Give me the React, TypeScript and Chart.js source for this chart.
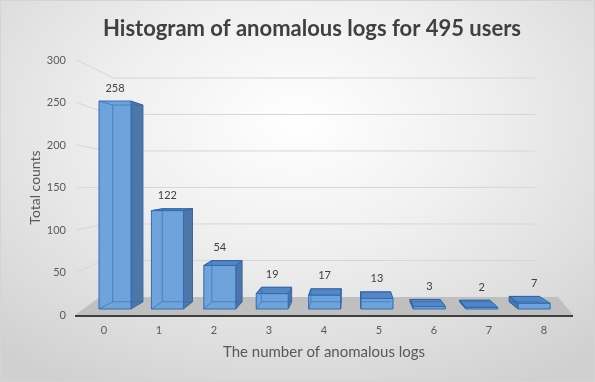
import React, { useEffect, useRef } from "react";
import { Chart, registerables } from "chart.js";

Chart.register(...registerables);

// ---- data ----
const categories = ["0", "1", "2", "3", "4", "5", "6", "7", "8"];
const counts = [258, 122, 54, 19, 17, 13, 3, 2, 7];
const yTickValues = [0, 50, 100, 150, 200, 250, 300];
const titleText = "Histogram of anomalous logs for 495 users";
const xTitleText = "The number of anomalous logs";
const yTitleText = "Total counts";

const FONT = "Lato, 'Open Sans', sans-serif";

// perspective (style)
const VP = { x: 352, y: 175 };
const DEPTH = 0.946;
const proj = (x: number, y: number) => ({ x: VP.x + DEPTH * (x - VP.x), y: VP.y + DEPTH * (y - VP.y) });

const poly = (ctx: CanvasRenderingContext2D, pts: { x: number; y: number }[]) => {
  ctx.beginPath();
  ctx.moveTo(pts[0].x, pts[0].y);
  for (let i = 1; i < pts.length; i++) ctx.lineTo(pts[i].x, pts[i].y);
  ctx.closePath();
};

const scenePlugin = {
  id: "scene3d",
  beforeDatasetsDraw(chart: any) {
    const { ctx, chartArea, scales } = chart;
    const y = scales.y;
    const yw = scales.yw;
    const L = chartArea.left;
    const R = chartArea.right;
    const B = chartArea.bottom;
    ctx.save();
    // back wall grid lines
    ctx.strokeStyle = "#d6d6d6";
    ctx.lineWidth = 1;
    yTickValues.forEach((v) => {
      if (v === 0) return;
      const fy = y.getPixelForValue(v);
      const by = yw.getPixelForValue(v);
      const wx = L + 23.5 + 13 * (v / 300);
      ctx.beginPath();
      ctx.moveTo(L + 0.5, fy);
      ctx.lineTo(wx, by);
      ctx.lineTo(R - 36.5, by);
      ctx.stroke();
    });
    // floor
    const backY = yw.getPixelForValue(0);
    ctx.fillStyle = "#bfbfbf";
    poly(ctx, [
      { x: L - 1.5, y: B },
      { x: R + 1.5, y: B },
      { x: R - 13.5, y: backY },
      { x: L + 23.5, y: backY },
    ]);
    ctx.fill();
    // axis line
    ctx.strokeStyle = "#3f3f3f";
    ctx.lineWidth = 2;
    ctx.beginPath();
    ctx.moveTo(L - 1.5, B + 1);
    ctx.lineTo(R + 1.5, B + 1);
    ctx.stroke();
    ctx.restore();
  },
  afterDatasetsDraw(chart: any) {
    const { ctx } = chart;
    const meta = chart.getDatasetMeta(0);
    ctx.save();
    meta.data.forEach((bar: any, i: number) => {
      const p = bar.getProps(["x", "y", "width", "base"], true);
      const l = p.x - p.width / 2;
      const r = p.x + p.width / 2;
      const t = p.y;
      const b = p.base;
      const fTL = { x: l, y: t }, fTR = { x: r, y: t }, fBR = { x: r, y: b }, fBL = { x: l, y: b };
      const bTL = proj(l, t), bTR = proj(r, t), bBR = proj(r, b), bBL = proj(l, b);
      ctx.lineWidth = 1;
      ctx.lineJoin = "round";
      // side face
      if (r < VP.x) {
        poly(ctx, [fTR, bTR, bBR, fBR]);
        ctx.fillStyle = "#4d77a8";
        ctx.fill();
        ctx.strokeStyle = "#3a6699";
        ctx.stroke();
      } else if (l > VP.x) {
        poly(ctx, [fTL, bTL, bBL, fBL]);
        ctx.fillStyle = "#4d77a8";
        ctx.fill();
        ctx.strokeStyle = "#3a6699";
        ctx.stroke();
      }
      // top face
      if (t > VP.y) {
        poly(ctx, [fTL, fTR, bTR, bTL]);
        ctx.fillStyle = "#5386c2";
        ctx.fill();
        ctx.strokeStyle = "#2f67a8";
        ctx.stroke();
      }
      // front face
      ctx.fillStyle = "#6fa3dc";
      ctx.fillRect(l, t, r - l, b - t);
      // back edges seen through glass
      ctx.strokeStyle = "rgba(45,100,170,0.55)";
      ctx.beginPath();
      ctx.moveTo(bTL.x, bTL.y);
      ctx.lineTo(bBL.x, bBL.y);
      ctx.lineTo(bBR.x, bBR.y);
      ctx.moveTo(bTL.x, bTL.y);
      ctx.lineTo(bTR.x, bTR.y);
      ctx.moveTo(fBL.x, fBL.y);
      ctx.lineTo(bBL.x, bBL.y);
      ctx.moveTo(fTL.x, fTL.y);
      ctx.lineTo(bTL.x, bTL.y);
      ctx.stroke();
      // front outline
      ctx.strokeStyle = "#2f6db4";
      ctx.strokeRect(l, t, r - l, b - t);
      // value label
      ctx.fillStyle = "#404040";
      ctx.font = `11px ${FONT}`;
      ctx.textAlign = "center";
      ctx.textBaseline = "middle";
      ctx.fillText(String(counts[i]), p.x, Math.min(t, bTL.y) - 13);
    });
    ctx.restore();
  },
  afterDraw(chart: any) {
    const { ctx } = chart;
    ctx.save();
    ctx.fillStyle = "#404040";
    ctx.font = `bold 22px ${FONT}`;
    ctx.textAlign = "center";
    ctx.textBaseline = "middle";
    ctx.fillText(titleText, 312, 29);
    ctx.restore();
  },
};

export default function App() {
  const canvasRef = useRef<HTMLCanvasElement | null>(null);

  useEffect(() => {
    document.body.style.margin = "0";
    const canvas = canvasRef.current;
    if (!canvas) return;
    const chart = new Chart(canvas, {
      type: "bar",
      data: {
        labels: categories,
        datasets: [
          {
            label: "Total counts",
            data: counts.map((v, i) => ({ x: i, y: v })) as any,
            xAxisID: "xb",
            yAxisID: "yb",
            backgroundColor: "rgba(0,0,0,0)",
            borderWidth: 0,
            barThickness: 32,
          },
        ],
      },
      options: {
        responsive: false,
        animation: false,
        devicePixelRatio: 1,
        layout: { padding: { left: 0, right: 23.5, top: 60, bottom: 0 } },
        plugins: {
          legend: { display: false },
          tooltip: { enabled: false },
          title: { display: false },
        },
        scales: {
          x: {
            type: "category",
            labels: categories,
            position: "bottom",
            grid: { display: false, drawTicks: false },
            border: { display: false },
            ticks: { color: "#595959", font: { family: FONT, size: 11 }, padding: 8.4 },
            title: {
              display: true,
              text: xTitleText,
              color: "#595959",
              font: { family: FONT, size: 15 },
              padding: { top: 4, bottom: 21 },
            },
            afterFit: (s: any) => {
              s.height = 67;
            },
          },
          y: {
            type: "linear",
            position: "left",
            min: 0,
            max: 300,
            afterBuildTicks: (s: any) => {
              s.ticks = yTickValues.map((v) => ({ value: v }));
            },
            grid: { display: false, drawTicks: false },
            border: { display: false },
            ticks: { color: "#595959", font: { family: FONT, size: 11 }, padding: 10.5 },
            title: {
              display: true,
              text: yTitleText,
              color: "#595959",
              font: { family: FONT, size: 14 },
              padding: { top: 26.6, bottom: 0 },
            },
            afterFit: (s: any) => {
              s.width = 76.5;
            },
          },
          xb: { type: "linear", display: false, offset: false, min: -0.735, max: 8.712 },
          yb: { type: "linear", display: false, min: -7.44, max: 308.9 },
          yw: { type: "linear", display: false, min: -24.66, max: 324.6 },
        },
      } as any,
      plugins: [scenePlugin],
    });
    return () => chart.destroy();
  }, []);

  return (
    <div
      style={{
        position: "absolute",
        left: 0,
        top: 0,
        width: 595,
        height: 382,
        boxSizing: "border-box",
        border: "1px solid #d4d4d4",
        background:
          "radial-gradient(ellipse 75% 80% at 50% 32%, #ffffff 0%, #f0f0f0 40%, #dedede 75%, #d0d0d0 100%)",
      }}
    >
      <canvas ref={canvasRef} width={595} height={382} style={{ position: "absolute", left: -1, top: -1 }} />
    </div>
  );
}
